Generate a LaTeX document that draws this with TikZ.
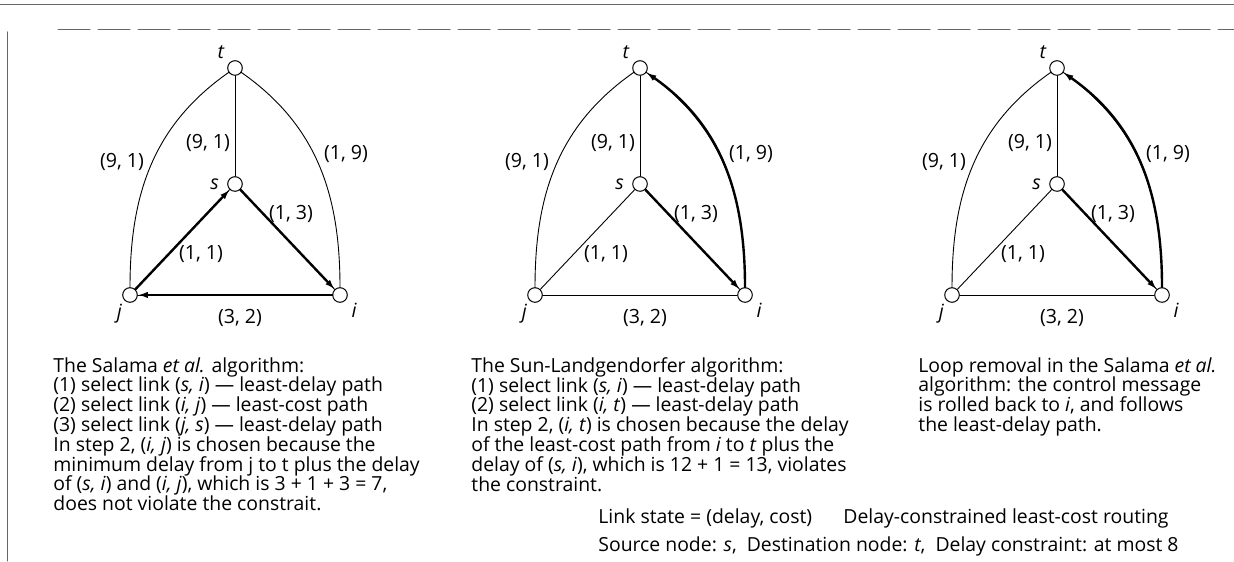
\documentclass[tikz,border=0pt]{standalone}
\usepackage{fontspec}
\setmainfont{Open Sans}
\usetikzlibrary{arrows.meta}

\tikzset{
  vtx/.style   = {circle, draw, fill=white, minimum size=7.3pt, inner sep=0pt,
                  line width=0.5pt},
  lnk/.style   = {line width=0.45pt},
  hop/.style   = {line width=1.2pt, -{Latex[length=5pt,width=3.2pt]}},
  wt/.style    = {font=\fontsize{9.8}{10}\selectfont, inner sep=0pt},
  vname/.style = {font=\itshape\fontsize{9.8}{10}\selectfont, inner sep=0pt},
  capt/.style  = {anchor=north west, align=left, inner sep=0pt,
                  font=\fontsize{9.7}{9.9}\selectfont},
  frame/.style = {line width=0.5pt, color=black!60},
}

\begin{document}
\begin{tikzpicture}[x=0.5pt, y=0.5pt, line cap=round]
\useasboundingbox (0,0) rectangle (1234,561);

% one network. #1 name prefix, #2 x of s
\newcommand{\linknet}[2]{%
  \node[vtx, label={[vname, label distance=3pt]140:t}] (#1t) at (#2,493) {};
  \node[vtx, label={[vname, label distance=4pt]180:s}] (#1s) at (#2,377) {};
  \node[vtx, label={[vname, label distance=2pt]228:j}] (#1j) at ({#2-105},266) {};
  \node[vtx, label={[vname, label distance=3pt]-36:i}] (#1i) at ({#2+105},266) {};
  \draw[lnk] (#1t) -- (#1s);
  \draw[lnk] (#1s) -- (#1j);
  \draw[lnk] (#1s) -- (#1i);
  \draw[lnk] (#1j) -- (#1i);
  \draw[lnk] (#1t) to[out=215, in=90] (#1j);
  \draw[lnk] (#1t) to[out=-35, in=90] (#1i);
  \node[wt] (#1tj) at ({#2-113},399) {(9, 1)};
  \node[wt] (#1ts) at ({#2-27},418) {(9, 1)};
  \node[wt] (#1ti) at ({#2+111},407) {(1, 9)};
  \node[wt] (#1si) at ({#2+56},347) {(1, 3)};
  \node[wt] (#1sj) at ({#2-34},307) {(1, 1)};
  \node[wt] (#1ji) at ({#2+5},243) {(3, 2)};}

% frame of the figure
\draw[frame] (0,556) -- (1234,556);
\draw[frame, dash pattern=on 16pt off 4pt] (58,531) -- (1234,531);
\draw[frame] (7,529) -- (7,0);

% ====================== 1: Salama et al. =============================
\linknet{a}{235}
\draw[hop] (as) -- (ai);
\draw[hop] (ai) -- (aj);
\draw[hop] (aj) -- (as);

\node[capt] (acap) at (53,204)
  {The Salama \textit{et al.} algorithm:\\
   (1) select link (\textit{s, i}) --- least-delay path\\
   (2) select link (\textit{i, j}) --- least-cost path\\
   (3) select link (\textit{j, s}) --- least-delay path\\
   In step 2, (\textit{i, j}) is chosen because the\\
   minimum delay from j to t plus the delay\\
   of (\textit{s, i}) and (\textit{i, j}), which is 3 + 1 + 3 = 7,\\
   does not violate the constrait.};

% ====================== 2: Sun-Landgendorfer =========================
\linknet{b}{640}
\draw[hop] (bs) -- (bi);
\draw[hop] (bi) to[out=90, in=-35] (bt);

\node[capt] (bcap) at (471,204)
  {The Sun-Landgendorfer algorithm:\\
   (1) select link (\textit{s, i}) --- least-delay path\\
   (2) select link (\textit{i, t}) --- least-delay path\\
   In step 2, (\textit{i, t}) is chosen because the delay\\
   of the least-cost path from \textit{i} to \textit{t} plus the\\
   delay of (\textit{s, i}), which is 12 + 1 = 13, violates\\
   the constraint.};

% ====================== 3: loop removal ==============================
\linknet{c}{1057}
\draw[hop] (cs) -- (ci);
\draw[hop] (ci) to[out=90, in=-35] (ct);

\node[capt] (ccap) at (918,204)
  {Loop removal in the Salama \textit{et al.}\\
   algorithm: the control message\\
   is rolled back to \textit{i}, and follows\\
   the least-delay path.};

% legend
\node[capt, anchor=base west] (state) at (598,37) {Link state = (delay, cost)};
\node[capt, anchor=base west] (goal) at (843,37) {Delay-constrained least-cost routing};
\node[capt, anchor=base west] (ends) at (598,10)
  {Source node: \textit{s},\ \ Destination node: \textit{t},\ \ Delay constraint: at most 8};

\end{tikzpicture}
\end{document}
